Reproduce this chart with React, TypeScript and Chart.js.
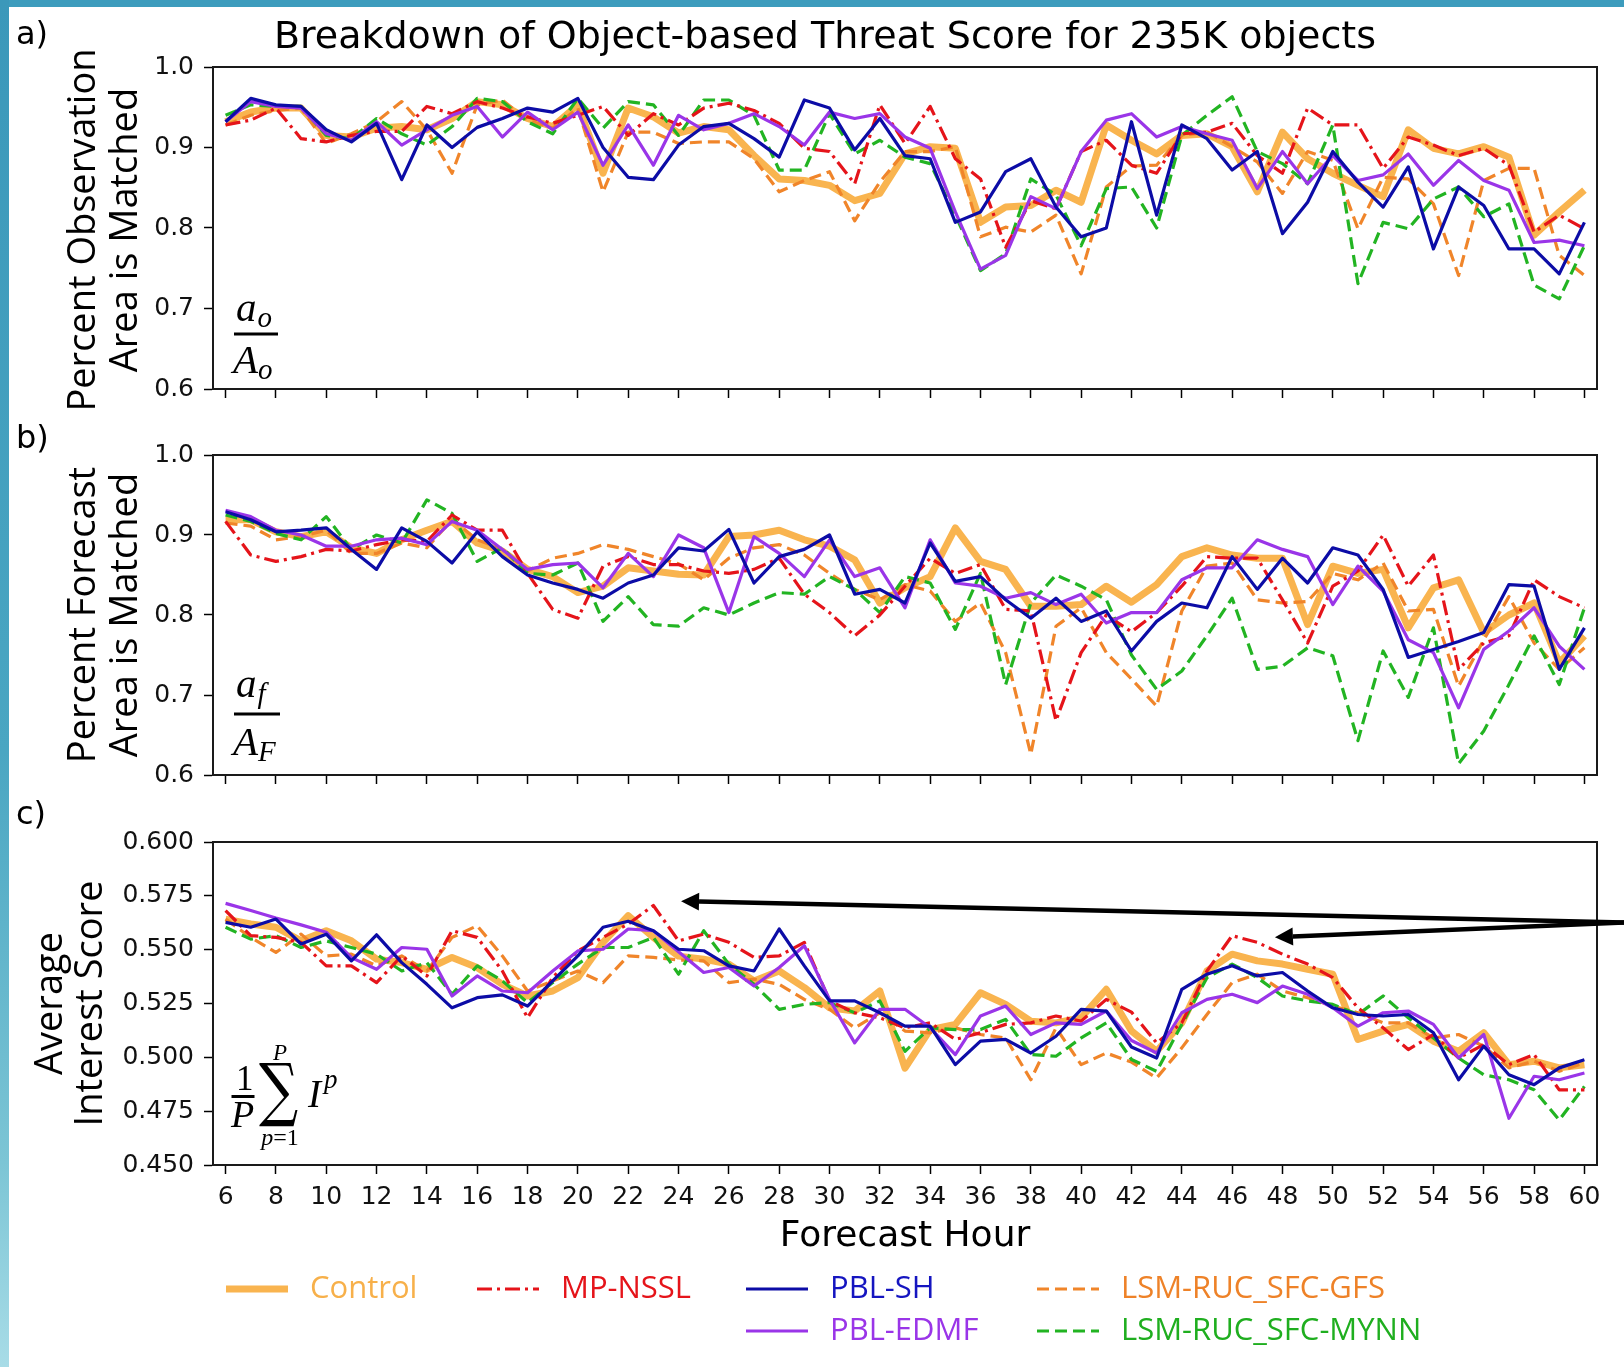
import React, { useEffect, useRef } from "react";
import { Chart, registerables } from "chart.js";
Chart.register(...registerables);

// ---------------- data ----------------
const hours = [6,7,8,9,10,11,12,13,14,15,16,17,18,19,20,21,22,23,24,25,26,27,28,29,30,31,32,33,34,35,36,37,38,39,40,41,42,43,44,45,46,47,48,49,50,51,52,53,54,55,56,57,58,59,60];
const hourTicks = [6,8,10,12,14,16,18,20,22,24,26,28,30,32,34,36,38,40,42,44,46,48,50,52,54,56,58,60];
const fracTicks = [0.6,0.7,0.8,0.9,1.0];
const interestTicks = [0.45,0.475,0.5,0.525,0.55,0.575,0.6];

const seriesLabels = ["Control","MP-NSSL","PBL-SH","LSM-RUC_SFC-GFS","PBL-EDMF","LSM-RUC_SFC-MYNN"];

// a) fraction of observation area matched
const obsControl = [0.932,0.944,0.949,0.949,0.915,0.913,0.924,0.926,0.922,0.936,0.957,0.953,0.936,0.926,0.953,0.868,0.949,0.938,0.918,0.926,0.922,0.890,0.861,0.859,0.853,0.834,0.843,0.892,0.901,0.899,0.807,0.826,0.828,0.847,0.832,0.928,0.909,0.892,0.915,0.917,0.901,0.845,0.919,0.886,0.868,0.853,0.839,0.922,0.899,0.892,0.901,0.888,0.791,0.820,0.847];
const obsNssl = [0.928,0.934,0.949,0.911,0.907,0.915,0.920,0.920,0.951,0.942,0.957,0.949,0.938,0.930,0.940,0.951,0.915,0.942,0.928,0.949,0.955,0.946,0.930,0.899,0.895,0.855,0.953,0.905,0.951,0.886,0.861,0.776,0.834,0.824,0.895,0.909,0.878,0.868,0.917,0.919,0.930,0.890,0.868,0.949,0.928,0.928,0.874,0.913,0.903,0.890,0.899,0.878,0.795,0.816,0.799];
const obsSh = [0.932,0.961,0.953,0.951,0.922,0.907,0.930,0.860,0.928,0.900,0.925,0.936,0.949,0.944,0.961,0.900,0.863,0.860,0.903,0.926,0.930,0.911,0.888,0.959,0.949,0.897,0.936,0.890,0.886,0.807,0.820,0.870,0.886,0.826,0.789,0.800,0.932,0.816,0.928,0.911,0.872,0.895,0.793,0.832,0.895,0.857,0.826,0.876,0.774,0.851,0.828,0.774,0.774,0.743,0.807];
const obsGfs = [0.928,0.940,0.946,0.949,0.905,0.917,0.932,0.957,0.922,0.868,0.953,0.959,0.934,0.924,0.949,0.845,0.919,0.919,0.905,0.907,0.907,0.886,0.845,0.859,0.870,0.809,0.857,0.895,0.895,0.901,0.789,0.801,0.795,0.816,0.743,0.851,0.877,0.878,0.915,0.919,0.901,0.882,0.843,0.895,0.884,0.799,0.863,0.861,0.830,0.741,0.859,0.874,0.874,0.766,0.741];
const obsEdmf = [0.932,0.957,0.951,0.949,0.917,0.909,0.932,0.903,0.922,0.940,0.951,0.913,0.944,0.922,0.944,0.878,0.928,0.878,0.940,0.922,0.930,0.942,0.926,0.903,0.944,0.936,0.942,0.913,0.899,0.820,0.749,0.766,0.839,0.824,0.895,0.934,0.942,0.913,0.926,0.917,0.909,0.849,0.895,0.855,0.890,0.859,0.866,0.892,0.853,0.884,0.859,0.847,0.782,0.785,0.778];
const obsMynn = [0.940,0.953,0.951,0.951,0.915,0.911,0.936,0.917,0.903,0.926,0.961,0.957,0.932,0.917,0.961,0.924,0.957,0.953,0.915,0.959,0.959,0.940,0.872,0.872,0.942,0.892,0.909,0.888,0.880,0.816,0.747,0.768,0.861,0.841,0.778,0.849,0.851,0.800,0.915,0.940,0.963,0.895,0.880,0.855,0.928,0.731,0.807,0.799,0.836,0.851,0.814,0.830,0.729,0.712,0.778];

// b) fraction of forecast area matched
const fcstControl = [0.919,0.919,0.904,0.898,0.904,0.884,0.877,0.894,0.906,0.917,0.890,0.880,0.857,0.848,0.828,0.836,0.859,0.855,0.851,0.850,0.898,0.900,0.906,0.894,0.886,0.869,0.815,0.834,0.848,0.909,0.867,0.857,0.811,0.811,0.813,0.836,0.816,0.838,0.873,0.884,0.875,0.871,0.871,0.788,0.861,0.852,0.857,0.784,0.834,0.844,0.778,0.800,0.815,0.740,0.774];
const fcstNssl = [0.917,0.875,0.867,0.873,0.882,0.880,0.888,0.894,0.892,0.925,0.906,0.906,0.852,0.807,0.796,0.861,0.873,0.863,0.863,0.855,0.852,0.857,0.871,0.826,0.803,0.774,0.800,0.836,0.871,0.852,0.863,0.807,0.805,0.668,0.753,0.800,0.779,0.803,0.836,0.873,0.871,0.871,0.819,0.765,0.836,0.855,0.900,0.836,0.875,0.732,0.765,0.774,0.844,0.823,0.809];
const fcstSh = [0.929,0.919,0.904,0.906,0.909,0.882,0.857,0.909,0.892,0.865,0.904,0.873,0.850,0.840,0.832,0.821,0.840,0.850,0.884,0.880,0.907,0.840,0.873,0.882,0.900,0.826,0.832,0.815,0.890,0.842,0.848,0.819,0.796,0.821,0.792,0.805,0.755,0.792,0.815,0.809,0.873,0.832,0.871,0.840,0.884,0.875,0.832,0.747,0.757,0.767,0.778,0.838,0.836,0.732,0.784];
const fcstGfs = [0.915,0.911,0.894,0.898,0.906,0.877,0.877,0.890,0.884,0.919,0.894,0.882,0.855,0.871,0.877,0.888,0.882,0.873,0.864,0.844,0.871,0.884,0.888,0.875,0.852,0.832,0.819,0.838,0.830,0.792,0.815,0.753,0.626,0.786,0.809,0.753,0.720,0.686,0.805,0.861,0.865,0.819,0.815,0.817,0.852,0.844,0.865,0.805,0.807,0.711,0.769,0.823,0.765,0.732,0.759];
const fcstEdmf = [0.931,0.923,0.906,0.900,0.886,0.886,0.894,0.896,0.888,0.917,0.906,0.882,0.857,0.863,0.865,0.834,0.877,0.848,0.900,0.884,0.803,0.898,0.877,0.848,0.894,0.848,0.859,0.809,0.894,0.840,0.836,0.821,0.828,0.813,0.826,0.790,0.803,0.803,0.844,0.859,0.859,0.894,0.882,0.873,0.813,0.861,0.830,0.769,0.753,0.684,0.757,0.780,0.809,0.761,0.732];
const fcstMynn = [0.925,0.917,0.902,0.894,0.923,0.882,0.900,0.890,0.944,0.927,0.867,0.884,0.852,0.850,0.865,0.792,0.823,0.788,0.786,0.809,0.800,0.815,0.828,0.826,0.848,0.832,0.803,0.848,0.840,0.782,0.852,0.713,0.815,0.850,0.836,0.819,0.750,0.707,0.730,0.774,0.821,0.732,0.736,0.759,0.749,0.643,0.755,0.697,0.784,0.614,0.655,0.713,0.774,0.713,0.809];

// c) average interest score
const intControl = [0.5642,0.5619,0.5604,0.5541,0.5588,0.5541,0.5456,0.5440,0.5409,0.5464,0.5417,0.5339,0.5285,0.5308,0.5370,0.5534,0.5658,0.5557,0.5470,0.5456,0.5433,0.5355,0.5401,0.5324,0.5230,0.5215,0.5308,0.4950,0.5129,0.5153,0.5300,0.5246,0.5168,0.5160,0.5184,0.5316,0.5122,0.5028,0.5160,0.5401,0.5479,0.5448,0.5433,0.5409,0.5386,0.5083,0.5122,0.5153,0.5075,0.5028,0.5114,0.4966,0.4982,0.4951,0.4966];
const intNssl = [0.5681,0.5565,0.5557,0.5534,0.5425,0.5425,0.5347,0.5471,0.5378,0.5588,0.5557,0.5401,0.5184,0.5370,0.5495,0.5557,0.5619,0.5705,0.5541,0.5572,0.5534,0.5464,0.5471,0.5534,0.5262,0.5207,0.5184,0.5137,0.5160,0.5083,0.5114,0.5153,0.5160,0.5192,0.5168,0.5269,0.5210,0.5067,0.5160,0.5401,0.5565,0.5534,0.5479,0.5433,0.5370,0.5230,0.5137,0.5036,0.5106,0.4997,0.5059,0.4966,0.5013,0.4849,0.4849];
const intSh = [0.5627,0.5604,0.5642,0.5526,0.5572,0.5448,0.5569,0.5440,0.5339,0.5230,0.5277,0.5290,0.5238,0.5355,0.5471,0.5604,0.5632,0.5588,0.5502,0.5495,0.5425,0.5401,0.5596,0.5425,0.5262,0.5262,0.5207,0.5145,0.5145,0.4966,0.5075,0.5083,0.5020,0.5098,0.5223,0.5215,0.5048,0.4997,0.5316,0.5386,0.5425,0.5378,0.5394,0.5308,0.5230,0.5199,0.5192,0.5199,0.5114,0.4896,0.5052,0.4919,0.4873,0.4951,0.4989];
const intGfs = [0.5642,0.5557,0.5487,0.5572,0.5471,0.5479,0.5425,0.5471,0.5401,0.5557,0.5611,0.5471,0.5308,0.5355,0.5401,0.5347,0.5471,0.5464,0.5452,0.5448,0.5347,0.5363,0.5339,0.5269,0.5223,0.5137,0.5207,0.5122,0.5114,0.5137,0.5106,0.5090,0.4896,0.5137,0.4966,0.5020,0.4978,0.4904,0.5044,0.5199,0.5347,0.5386,0.5308,0.5277,0.5238,0.5207,0.5160,0.5160,0.5090,0.5106,0.5052,0.4951,0.4982,0.4935,0.4974];
const intEdmf = [0.5715,0.5682,0.5647,0.5615,0.5581,0.5463,0.5409,0.5510,0.5502,0.5285,0.5378,0.5308,0.5300,0.5401,0.5494,0.5502,0.5596,0.5588,0.5490,0.5394,0.5417,0.5331,0.5417,0.5518,0.5269,0.5067,0.5223,0.5223,0.5137,0.5013,0.5192,0.5238,0.5106,0.5160,0.5153,0.5215,0.5078,0.5020,0.5207,0.5269,0.5293,0.5254,0.5331,0.5293,0.5230,0.5145,0.5207,0.5215,0.5153,0.4997,0.5106,0.4717,0.4912,0.4896,0.4927];
const intMynn = [0.5604,0.5549,0.5565,0.5510,0.5541,0.5510,0.5479,0.5401,0.5440,0.5293,0.5425,0.5355,0.5254,0.5347,0.5433,0.5510,0.5510,0.5557,0.5386,0.5588,0.5433,0.5339,0.5223,0.5246,0.5254,0.5207,0.5262,0.5028,0.5137,0.5129,0.5129,0.5176,0.5013,0.5005,0.5090,0.5160,0.4990,0.4935,0.5153,0.5370,0.5433,0.5370,0.5285,0.5262,0.5246,0.5199,0.5285,0.5184,0.5090,0.4997,0.4919,0.4896,0.4849,0.4709,0.4865];

// arrow annotation targets (hour, score) and common tail
const arrowHeads = [{ x: 24.1, y: 0.5725 }, { x: 47.7, y: 0.5558 }];
const arrowTail = { x: 61.62, y: 0.5626 };

// ---------------- styles ----------------
const STYLE = [
  { color: "#f9b44f", text: "#f7b04a", width: 7, dash: [] as number[], order: 6 },
  { color: "#e5141a", text: "#e5141a", width: 3.2, dash: [15, 5, 3, 5], order: 3 },
  { color: "#0c0ca6", text: "#1515c0", width: 3.2, dash: [] as number[], order: 1 },
  { color: "#f0852a", text: "#ee8228", width: 3.2, dash: [12, 6], order: 5 },
  { color: "#9a35e8", text: "#9a35e8", width: 3.2, dash: [] as number[], order: 2 },
  { color: "#22b422", text: "#1fae1f", width: 3.2, dash: [12, 6], order: 4 },
];
const LEGEND_POS = [
  { row: 0, col: 0 }, { row: 0, col: 1 }, { row: 0, col: 2 }, { row: 0, col: 3 },
  { row: 1, col: 2 }, { row: 1, col: 3 },
];
const LEGEND_COL_X = [226, 477, 746, 1037];

const W = 1624;

function yTitle(ctx: CanvasRenderingContext2D, lines: string[], xs: number[], cy: number) {
  ctx.save();
  ctx.font = '38px "Open Sans"';
  ctx.fillStyle = "#000";
  ctx.textAlign = "center";
  ctx.textBaseline = "alphabetic";
  lines.forEach((l, i) => {
    ctx.save();
    ctx.translate(xs[i], cy);
    ctx.rotate(-Math.PI / 2);
    ctx.fillText(l, 0, 0);
    ctx.restore();
  });
  ctx.restore();
}

function label(ctx: CanvasRenderingContext2D, s: string, x: number, y: number, font: string, align: CanvasTextAlign = "left", color = "#000") {
  ctx.save();
  ctx.font = font;
  ctx.fillStyle = color;
  ctx.textAlign = align;
  ctx.textBaseline = "alphabetic";
  ctx.fillText(s, x, y);
  ctx.restore();
}

function frac(ctx: CanvasRenderingContext2D, x: number, numBase: number, barY: number, denBase: number, barW: number, num: string, numSub: string, den: string, denSub: string) {
  ctx.save();
  const main = 'italic 41px "Liberation Serif"';
  const sub = 'italic 29px "Liberation Serif"';
  ctx.fillStyle = "#000";
  ctx.textAlign = "left";
  ctx.textBaseline = "alphabetic";
  ctx.font = main;
  ctx.fillText(num, x + 2, numBase);
  let w = ctx.measureText(num).width;
  ctx.font = sub;
  ctx.fillText(numSub, x + 2 + w + 1, numBase + 6);
  ctx.fillRect(x, barY - 1.5, barW, 3);
  ctx.font = main;
  ctx.fillText(den, x - 1, denBase);
  w = ctx.measureText(den).width;
  ctx.font = sub;
  ctx.fillText(denSub, x - 1 + w, denBase + 6);
  ctx.restore();
}

function frame(chart: any) {
  const { ctx, chartArea: a } = chart;
  ctx.save();
  ctx.strokeStyle = "#1a1a1a";
  ctx.lineWidth = 2;
  ctx.strokeRect(a.left, a.top, a.right - a.left, a.bottom - a.top);
  ctx.restore();
}

function drawArrow(ctx: CanvasRenderingContext2D, x0: number, y0: number, x1: number, y1: number) {
  const a = Math.atan2(y1 - y0, x1 - x0);
  const L = 18, H = 9;
  const bx = x1 - L * Math.cos(a), by = y1 - L * Math.sin(a);
  ctx.save();
  ctx.strokeStyle = "#000";
  ctx.fillStyle = "#000";
  ctx.lineWidth = 4.5;
  ctx.beginPath();
  ctx.moveTo(x0, y0);
  ctx.lineTo(bx, by);
  ctx.stroke();
  ctx.beginPath();
  ctx.moveTo(x1, y1);
  ctx.lineTo(bx - H * Math.sin(a), by + H * Math.cos(a));
  ctx.lineTo(bx + H * Math.sin(a), by - H * Math.cos(a));
  ctx.closePath();
  ctx.fill();
  ctx.restore();
}

function decorA(chart: any) {
  frame(chart);
  const ctx = chart.ctx as CanvasRenderingContext2D;
  const a = chart.chartArea;
  label(ctx, "Breakdown of Object-based Threat Score for 235K objects", 825, 48, '38px "DejaVu Sans"', "center");
  label(ctx, "a)", 16, 44, '32px "DejaVu Sans"');
  yTitle(ctx, ["Percent Observation", "Area is Matched"], [95, 137], (a.top + a.bottom) / 2 + 2);
  frac(ctx, 234, 321, 334, 373, 44, "a", "o", "A", "o");
}

function decorB(chart: any) {
  frame(chart);
  const ctx = chart.ctx as CanvasRenderingContext2D;
  const a = chart.chartArea;
  label(ctx, "b)", 16, 48, '32px "DejaVu Sans"');
  yTitle(ctx, ["Percent Forecast", "Area is Matched"], [95, 137], (a.top + a.bottom) / 2);
  frac(ctx, 234, 297, 314, 355, 46, "a", "f", "A", "F");
}

function decorC(chart: any) {
  frame(chart);
  const ctx = chart.ctx as CanvasRenderingContext2D;
  const a = chart.chartArea;
  label(ctx, "c)", 16, 24, '32px "DejaVu Sans"');
  yTitle(ctx, ["Average", "Interest Score"], [62, 102], (a.top + a.bottom) / 2);
  label(ctx, "Forecast Hour", (a.left + a.right) / 2, 446, '36px "DejaVu Sans"', "center");

  // formula 1/P sum_{p=1}^{P} I^p
  ctx.save();
  ctx.fillStyle = "#000";
  label(ctx, "1", 236, 290, '35px "Liberation Serif"');
  ctx.fillRect(231.5, 295, 23, 3);
  label(ctx, "P", 231, 327, 'italic 38px "Liberation Serif"');
  ctx.font = '100px "DejaVu Serif"';
  const m = ctx.measureText("\u2211");
  const h = m.actualBoundingBoxAscent + m.actualBoundingBoxDescent;
  const wv = m.actualBoundingBoxLeft + m.actualBoundingBoxRight;
  const s = 64 / h;
  const sx = 39 / (wv * s);
  ctx.save();
  ctx.translate(259, 327);
  ctx.scale(sx * s, s);
  ctx.textBaseline = "alphabetic";
  ctx.textAlign = "left";
  ctx.fillText("\u2211", m.actualBoundingBoxLeft, -m.actualBoundingBoxDescent);
  ctx.restore();
  label(ctx, "P", 280, 260, 'italic 23px "Liberation Serif"', "center");
  ctx.font = 'italic 24px "Liberation Serif"';
  const pw = ctx.measureText("p").width;
  ctx.font = '24px "Liberation Serif"';
  const ew = ctx.measureText("=1").width;
  const sx0 = 280 - (pw + ew) / 2;
  label(ctx, "p", sx0, 345, 'italic 24px "Liberation Serif"');
  label(ctx, "=1", sx0 + pw, 345, '24px "Liberation Serif"');
  label(ctx, "I", 308, 307, 'italic 39px "Liberation Serif"');
  label(ctx, "p", 324, 288, 'italic 27px "Liberation Serif"');
  ctx.restore();

  // arrows
  const xs = chart.scales.x, ys = chart.scales.y;
  const tx = xs.getPixelForValue(arrowTail.x), ty = ys.getPixelForValue(arrowTail.y);
  arrowHeads.forEach((p) => drawArrow(ctx, tx, ty, xs.getPixelForValue(p.x), ys.getPixelForValue(p.y)));

  // legend
  const rowY = [489, 531];
  seriesLabels.forEach((name, i) => {
    const st = STYLE[i];
    const pos = LEGEND_POS[i];
    const x0 = LEGEND_COL_X[pos.col];
    const y = rowY[pos.row];
    ctx.save();
    ctx.strokeStyle = st.color;
    ctx.lineWidth = st.width;
    ctx.setLineDash(st.dash);
    ctx.beginPath();
    ctx.moveTo(x0, y);
    ctx.lineTo(x0 + 62, y);
    ctx.stroke();
    ctx.restore();
    ctx.save();
    ctx.font = '31px "Open Sans"';
    ctx.fillStyle = st.text;
    ctx.textBaseline = "middle";
    ctx.textAlign = "left";
    ctx.fillText(name, x0 + 84, y);
    ctx.restore();
  });
}

type PanelProps = {
  top: number;
  height: number;
  values: number[][];
  yTicks: number[];
  decimals: number;
  showX: boolean;
  padTop: number;
  padBottom: number;
  xAxisH: number;
  decorate: (chart: any) => void;
};

function Panel(props: PanelProps) {
  const ref = useRef<HTMLCanvasElement>(null);
  useEffect(() => {
    const yMin = props.yTicks[0];
    const yMax = props.yTicks[props.yTicks.length - 1];
    const tickFont = { family: "DejaVu Sans", size: 25 };
    const chart = new Chart(ref.current as HTMLCanvasElement, {
      type: "line",
      data: {
        datasets: props.values.map((vals, i) => ({
          label: seriesLabels[i],
          data: hours.map((h, j) => ({ x: h, y: vals[j] })),
          borderColor: STYLE[i].color,
          backgroundColor: STYLE[i].color,
          borderWidth: STYLE[i].width,
          borderDash: STYLE[i].dash,
          borderJoinStyle: "round",
          borderCapStyle: "butt",
          pointRadius: 0,
          fill: false,
          tension: 0,
          order: STYLE[i].order,
        })),
      },
      options: {
        responsive: false,
        animation: false,
        events: [],
        layout: { padding: { top: props.padTop, bottom: props.padBottom, left: 0, right: 27 } },
        plugins: { legend: { display: false }, tooltip: { enabled: false }, title: { display: false } },
        scales: {
          x: {
            type: "linear",
            min: 5.5,
            max: 60.5,
            afterBuildTicks: (s: any) => {
              s.ticks = hourTicks.map((v) => ({ value: v }));
            },
            afterFit: (s: any) => {
              s.height = props.xAxisH;
            },
            grid: { display: true, drawOnChartArea: false, drawTicks: true, tickLength: 9, tickWidth: 1.5, tickColor: "#000", color: "#000" },
            border: { display: true, color: "#000", width: 1.5 },
            ticks: {
              autoSkip: false,
              maxRotation: 0,
              minRotation: 0,
              padding: 8,
              font: tickFont,
              color: "#111",
              callback: (v: any) => (props.showX ? String(v) : ""),
            },
          },
          y: {
            type: "linear",
            min: yMin,
            max: yMax,
            afterBuildTicks: (s: any) => {
              s.ticks = props.yTicks.map((v) => ({ value: v }));
            },
            afterFit: (s: any) => {
              s.width = 213;
            },
            grid: { display: true, drawOnChartArea: false, drawTicks: true, tickLength: 9, tickWidth: 1.5, tickColor: "#000", color: "#000" },
            border: { display: true, color: "#000", width: 1.5 },
            ticks: {
              padding: 10,
              font: tickFont,
              color: "#111",
              callback: (v: any) => Number(v).toFixed(props.decimals),
            },
          },
        },
      } as any,
      plugins: [{ id: "deco", afterDraw: (c: any) => props.decorate(c) }],
    });
    return () => chart.destroy();
  }, []);
  return (
    <canvas
      ref={ref}
      width={W}
      height={props.height}
      style={{ position: "absolute", left: 0, top: props.top, width: W, height: props.height }}
    />
  );
}

export default function App() {
  return (
    <div style={{ position: "absolute", left: 0, top: 0, width: W, height: 1367, background: "#fff", overflow: "hidden" }}>
      <Panel
        top={0}
        height={414}
        values={[obsControl, obsNssl, obsSh, obsGfs, obsEdmf, obsMynn]}
        yTicks={fracTicks}
        decimals={1}
        showX={false}
        padTop={67}
        padBottom={13}
        xAxisH={12}
        decorate={decorA}
      />
      <Panel
        top={400}
        height={400}
        values={[fcstControl, fcstNssl, fcstSh, fcstGfs, fcstEdmf, fcstMynn]}
        yTicks={fracTicks}
        decimals={1}
        showX={false}
        padTop={55}
        padBottom={12}
        xAxisH={12}
        decorate={decorB}
      />
      <Panel
        top={800}
        height={567}
        values={[intControl, intNssl, intSh, intGfs, intEdmf, intMynn]}
        yTicks={interestTicks}
        decimals={3}
        showX={true}
        padTop={42}
        padBottom={142}
        xAxisH={60}
        decorate={decorC}
      />
      <div style={{ position: "absolute", left: 0, top: 0, width: W, height: 7, background: "#3d9cbd", zIndex: 2 }} />
      <div
        style={{
          position: "absolute",
          left: 0,
          top: 0,
          width: 9,
          height: 1367,
          background: "linear-gradient(to bottom, #3b98ba 0%, #4aa6c2 55%, #7cc5d5 85%, #a8dce7 100%)",
          zIndex: 2,
        }}
      />
    </div>
  );
}
